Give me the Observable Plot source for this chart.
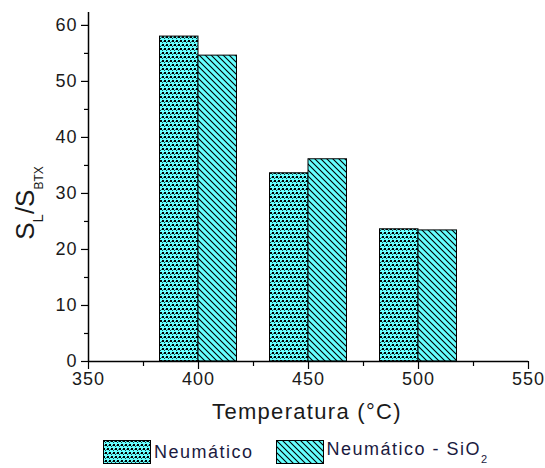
<!DOCTYPE html>
<html>
<head>
<meta charset="utf-8">
<script src="https://cdn.jsdelivr.net/npm/d3@7"></script>
<script src="https://cdn.jsdelivr.net/npm/@observablehq/plot@0.6"></script>
<style>
  html, body { margin: 0; padding: 0; background: #fff; }
  body { width: 545px; height: 468px; overflow: hidden; font-family: Arial, "Liberation Sans", sans-serif; }
  #legend { display: flex; justify-content: flex-start; align-items: center; margin-left: 103px; margin-top: 14px; font-size: 18px; letter-spacing: 1.5px; color: #1a1a40; }
  #legend .item { display: flex; align-items: center; margin-right: 22px; }
  #legend svg { margin-right: 3px; }
</style>
</head>
<body>
<svg width="0" height="0" style="position:absolute">
  <defs>
    <pattern id="patN" width="8" height="8" patternUnits="userSpaceOnUse">
      <rect width="8" height="8" fill="#66FFFF"/>
      <rect x="0" y="0" width="2" height="2" fill="#000"/>
      <rect x="4" y="0" width="2" height="2" fill="#000"/>
      <rect x="2" y="4" width="2" height="2" fill="#000"/>
      <rect x="6" y="4" width="2" height="2" fill="#000"/>
      <rect x="2" y="2" width="1" height="1" fill="#134444"/>
      <rect x="6" y="2" width="1" height="1" fill="#134444"/>
      <rect x="0" y="6" width="1" height="1" fill="#134444"/>
      <rect x="4" y="6" width="1" height="1" fill="#134444"/>
      <rect x="3" y="1" width="1" height="1" fill="#2f7a7a"/>
      <rect x="7" y="1" width="1" height="1" fill="#2f7a7a"/>
      <rect x="1" y="5" width="1" height="1" fill="#2f7a7a"/>
      <rect x="5" y="5" width="1" height="1" fill="#2f7a7a"/>
    </pattern>
    <pattern id="patS" width="6" height="6" patternUnits="userSpaceOnUse">
      <rect width="6" height="6" fill="#66FFFF"/>
      <path d="M-1,-1 L7,7 M-1,5 L1,7 M5,-1 L7,1" stroke="#000" stroke-width="1.1"/>
    </pattern>
  </defs>
</svg>
<div id="chart"></div>
<div id="legend"></div>
<script>
const temperatures = [400, 450, 500];
const neumatico = [58.0, 33.6, 23.6];
const neumaticoSiO2 = [54.6, 36.1, 23.4];
const seriesNames = ["Neumático", "Neumático - SiO"];
const xTicks = [350, 400, 450, 500, 550];
const yTicks = [0, 10, 20, 30, 40, 50, 60];

const barWidth = 17.5;
const dataN = temperatures.map((t, i) => ({x1: t - barWidth, x2: t, y: neumatico[i]}));
const dataS = temperatures.map((t, i) => ({x1: t, x2: t + barWidth, y: neumaticoSiO2[i]}));

const font = "Arial, 'Liberation Sans', sans-serif";

const chart = Plot.plot({
  width: 545,
  height: 425,
  marginLeft: 88,
  marginRight: 17,
  marginTop: 12,
  marginBottom: 64,
  style: {fontFamily: font, fontSize: "18px", color: "#1a1a1a", background: "#fff"},
  x: {type: "linear", domain: [350, 550]},
  y: {domain: [0, 62.3]},
  marks: [
    Plot.rectY(dataN, {x1: "x1", x2: "x2", y: "y", fill: "url(#patN)", stroke: "#000", strokeWidth: 1}),
    Plot.rectY(dataS, {x1: "x1", x2: "x2", y: "y", fill: "url(#patS)", stroke: "#000", strokeWidth: 1}),
    Plot.axisX({ticks: xTicks, tickSize: 8, tickPadding: 3, label: null, tickFormat: d => String(d), stroke: "#000", strokeWidth: 1.2}),
    Plot.axisX({ticks: d3.range(375, 550, 50), tickSize: 5, tickFormat: () => "", label: null, stroke: "#000", strokeWidth: 1.2}),
    Plot.axisY({ticks: yTicks, tickSize: 7, tickPadding: 4, label: null, stroke: "#000", strokeWidth: 1.2}),
    Plot.axisY({ticks: d3.range(5, 60, 10), tickSize: 4, tickFormat: () => "", label: null, stroke: "#000", strokeWidth: 1.2}),
    Plot.ruleX([350], {stroke: "#000", strokeWidth: 1.5}),
    Plot.ruleY([0], {stroke: "#000", strokeWidth: 1.5})
  ]
});

d3.select(chart).selectAll("g[aria-label='x-axis tick label'] text, g[aria-label='y-axis tick label'] text")
  .style("letter-spacing", "1px");

const svg = d3.select(chart);
// X axis title
svg.append("text")
  .attr("x", 307).attr("y", 419)
  .attr("text-anchor", "middle")
  .style("font-family", font).style("font-size", "22px").style("letter-spacing", "1.3px")
  .attr("fill", "#1a1a1a")
  .text("Temperatura (°C)");
// Y axis title with subscripts
const yl = svg.append("text")
  .attr("transform", "translate(34,203) rotate(-90)")
  .attr("text-anchor", "middle")
  .style("font-family", font)
  .attr("fill", "#1a1a1a");
yl.append("tspan").style("font-size", "26px").text("S");
yl.append("tspan").style("font-size", "15px").attr("dy", 9).text("L");
yl.append("tspan").style("font-size", "26px").attr("dy", -9).text("/S");
yl.append("tspan").style("font-size", "12px").attr("dy", 9).text("BTX");

document.getElementById("chart").appendChild(chart);

// Legend
const legend = d3.select("#legend");
const pats = ["url(#patN)", "url(#patS)"];
seriesNames.forEach((name, i) => {
  const item = legend.append("div").attr("class", "item");
  const sw = item.append("svg").attr("width", 48).attr("height", 24);
  sw.append("rect").attr("x", 0.5).attr("y", 0.5).attr("width", 47).attr("height", 23)
    .attr("fill", pats[i]).attr("stroke", "#000").attr("stroke-width", 1);
  const label = item.append("span").text(name);
  if (i === 1) label.append("sub").style("font-size", "11px").style("vertical-align", "-8px").text("2");
});
</script>
</body>
</html>
